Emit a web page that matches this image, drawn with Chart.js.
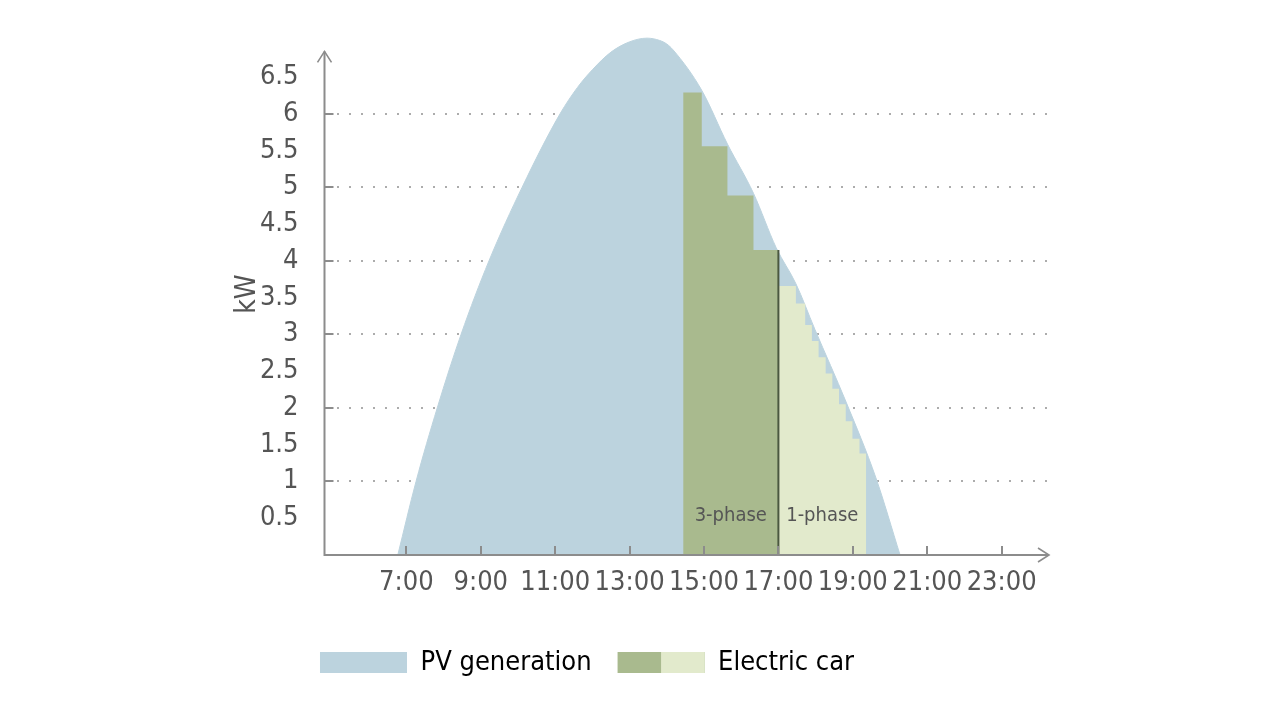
<!DOCTYPE html>
<html>
<head>
<meta charset="utf-8">
<script src="https://cdn.jsdelivr.net/npm/chart.js@4.4.1/dist/chart.umd.min.js"></script>
<style>
html,body{margin:0;padding:0;background:#ffffff;}
#wrap{width:1280px;height:720px;}
</style>
</head>
<body>
<div id="wrap"><canvas id="c" width="1280" height="720"></canvas></div>
<script>
const FONT = "'Liberation Sans Narrow', 'DejaVu Sans Condensed', 'Open Sans', sans-serif";
const TEXT = '#555555';
const AXIS = '#8c8c8c';

// tick labels
const hourTicks = [7, 9, 11, 13, 15, 17, 19, 21, 23];
const hourLabels = ['7:00', '9:00', '11:00', '13:00', '15:00', '17:00', '19:00', '21:00', '23:00'];
const kwTicks = [0.5, 1, 1.5, 2, 2.5, 3, 3.5, 4, 4.5, 5, 5.5, 6, 6.5];

// series names
const seriesNames = ['PV generation', 'Electric car'];
const phaseNames = ['3-phase', '1-phase'];

// PV generation curve (hour of day, kW)
const pvHours = [6.77, 7.26, 7.83, 8.47, 9.22, 10.11, 11.13, 11.6, 12.0, 12.5, 13.0, 13.47, 13.8, 14.0, 14.17, 14.94, 15.63, 16.33, 16.94, 17.47, 17.98, 18.82, 19.62, 20.27];
const pvKw    = [0, 1.0, 2.0, 3.0, 4.0, 5.0, 6.0, 6.36, 6.6, 6.84, 6.98, 7.03, 7.0, 6.95, 6.87, 6.32, 5.59, 4.92, 4.18, 3.69, 3.07, 2.08, 1.05, 0];

// Electric car charging, 3-phase steps (step start hour, kW; last entry = end)
const threePhaseHours = [14.44, 14.94, 15.63, 16.33, 17.0];
const threePhaseKw    = [6.29, 5.56, 4.89, 4.15, 4.15];

// Electric car charging, 1-phase steps (step start hour, kW; last entry = end)
const onePhaseHours = [17.0, 17.47, 17.72, 17.90, 18.08, 18.27, 18.45, 18.63, 18.81, 18.99, 19.18, 19.36];
const onePhaseKw    = [3.66, 3.42, 3.13, 2.91, 2.69, 2.47, 2.26, 2.05, 1.82, 1.58, 1.38, 1.38];

// switch from 3-phase to 1-phase
const switchHours = [17, 17];
const switchKw = [0, 4.15];

const colors = { pv: '#bcd3de', three: '#a9ba8e', one: '#e2eacc', divider: '#4b5840' };

const X_MIN = 4.8, X_MAX = 24.3, Y_MAX = 7.1, Y_ARROW = 6.85, PHASE_LABEL_KW = 0.54;

const toXY = (xs, ys) => xs.map((x, i) => ({ x: x, y: ys[i] }));

const overlay = {
  id: 'overlay',
  afterDraw(chart) {
    const { ctx, scales: { x, y } } = chart;
    const ax = x.getPixelForValue(X_MIN);
    const ay = y.getPixelForValue(0);
    const xEnd = x.getPixelForValue(X_MAX) - 1;
    const yTop = y.getPixelForValue(Y_ARROW);
    ctx.save();
    // phase labels
    ctx.font = '20px ' + FONT;
    ctx.fillStyle = TEXT;
    ctx.textAlign = 'center';
    ctx.textBaseline = 'middle';
    const mid = a => (a[0] + a[a.length - 1]) / 2;
    ctx.fillText(phaseNames[0], x.getPixelForValue(mid(threePhaseHours)), y.getPixelForValue(PHASE_LABEL_KW));
    ctx.fillText(phaseNames[1], x.getPixelForValue(mid(onePhaseHours)), y.getPixelForValue(PHASE_LABEL_KW));
    // axes
    ctx.strokeStyle = AXIS;
    ctx.lineWidth = 2;
    ctx.beginPath();
    ctx.moveTo(ax, yTop);
    ctx.lineTo(ax, ay);
    ctx.lineTo(xEnd, ay);
    ctx.stroke();
    ctx.lineWidth = 1.6;
    ctx.beginPath();
    ctx.moveTo(ax - 7, yTop + 11); ctx.lineTo(ax, yTop); ctx.lineTo(ax + 7, yTop + 11);
    ctx.stroke();
    ctx.beginPath();
    ctx.moveTo(xEnd - 11, ay - 7); ctx.lineTo(xEnd, ay); ctx.lineTo(xEnd - 11, ay + 7);
    ctx.stroke();
    // tick marks
    ctx.lineWidth = 2;
    kwTicks.filter(v => Number.isInteger(v)).forEach(v => {
      const py = Math.round(y.getPixelForValue(v));
      ctx.beginPath(); ctx.moveTo(ax, py); ctx.lineTo(ax + 9, py); ctx.stroke();
    });
    hourTicks.forEach(h => {
      const px = Math.round(x.getPixelForValue(h));
      ctx.beginPath(); ctx.moveTo(px, ay - 9); ctx.lineTo(px, ay); ctx.stroke();
    });
    // two-tone legend box for the electric car
    const lg = chart.legend;
    if (lg && lg.legendHitBoxes && lg.legendHitBoxes[1]) {
      const hb = lg.legendHitBoxes[1];
      const bw = lg.options.labels.boxWidth, bh = lg.options.labels.boxHeight;
      const fs = lg.options.labels.font.size;
      const top = hb.top + Math.max((fs - bh) / 2, 0);
      ctx.fillStyle = colors.one;
      ctx.fillRect(hb.left + bw / 2, top, bw / 2, bh);
    }
    ctx.restore();
  }
};

new Chart(document.getElementById('c'), {
  type: 'line',
  data: {
    datasets: [
      { label: phaseNames[1] + ' switch', data: toXY(switchHours, switchKw), borderColor: colors.divider, borderWidth: 2, pointRadius: 0, fill: false, order: 0 },
      { label: seriesNames[1] + ' ' + phaseNames[1], data: toXY(onePhaseHours, onePhaseKw), stepped: true, fill: 'origin', backgroundColor: colors.one, borderColor: 'rgba(0,0,0,0)', borderWidth: 0, pointRadius: 0, order: 1 },
      { label: seriesNames[1] + ' ' + phaseNames[0], data: toXY(threePhaseHours, threePhaseKw), stepped: true, fill: 'origin', backgroundColor: colors.three, borderColor: 'rgba(0,0,0,0)', borderWidth: 0, pointRadius: 0, order: 2 },
      { label: seriesNames[0], data: toXY(pvHours, pvKw), cubicInterpolationMode: 'monotone', fill: 'origin', backgroundColor: colors.pv, borderColor: colors.pv, borderWidth: 1, pointRadius: 0, order: 3, clip: false }
    ]
  },
  options: {
    responsive: false,
    animation: false,
    events: [],
    devicePixelRatio: 1,
    layout: { padding: { left: 124, right: 230, top: 33, bottom: 34 } },
    scales: {
      x: {
        type: 'linear',
        min: X_MIN,
        max: X_MAX,
        afterBuildTicks: s => { s.ticks = hourTicks.map(v => ({ value: v })); },
        afterFit: s => { s.height = 68; s.paddingLeft = 0; s.paddingRight = 0; },
        ticks: {
          autoSkip: false, maxRotation: 0, padding: 12, color: TEXT,
          font: { family: FONT, size: 27 },
          callback: v => hourLabels[hourTicks.indexOf(v)]
        },
        grid: { display: false, drawTicks: false },
        border: { display: false }
      },
      y: {
        type: 'linear',
        min: 0,
        max: Y_MAX,
        z: 1,
        afterBuildTicks: s => { s.ticks = kwTicks.map(v => ({ value: v })); },
        afterFit: s => { s.width = 200.5; s.paddingTop = 0; s.paddingBottom = 0; },
        ticks: { padding: 26, color: TEXT, font: { family: FONT, size: 27 }, callback: v => String(v) },
        grid: {
          drawTicks: false,
          lineWidth: 2,
          color: c => (c.tick && Number.isInteger(c.tick.value)) ? 'rgba(90,90,90,0.5)' : 'rgba(0,0,0,0)'
        },
        border: { display: false, dash: [2, 10] },
        title: { display: true, text: 'kW', color: TEXT, font: { family: FONT, size: 28 }, padding: { top: 107, bottom: 0 } }
      }
    },
    plugins: {
      tooltip: { enabled: false },
      legend: {
        position: 'bottom',
        onClick: () => {},
        labels: {
          boxWidth: 87, boxHeight: 21, padding: 26, color: TEXT,
          font: { family: FONT, size: 27 },
          generateLabels: () => [
            { text: seriesNames[0], fillStyle: colors.pv, strokeStyle: colors.pv, lineWidth: 0, hidden: false, datasetIndex: 3 },
            { text: seriesNames[1], fillStyle: colors.three, strokeStyle: colors.three, lineWidth: 0, hidden: false, datasetIndex: 2 }
          ]
        }
      }
    }
  },
  plugins: [overlay]
});
</script>
</body>
</html>
